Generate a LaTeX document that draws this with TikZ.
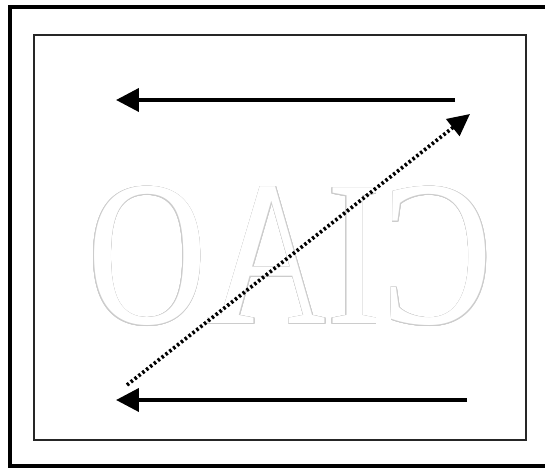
\documentclass[tikz,border=0pt]{standalone}
\usepackage{fontspec}
\setmainfont{Liberation Serif}
\usepackage{contour}
\usetikzlibrary{arrows.meta,positioning}
\contourlength{0.4pt}
\tikzset{
  frameLine/.style={draw=black, line width=2.4pt},
  panelBox/.style={draw=black!85, line width=1.2pt, inner sep=0pt},
  flowArrow/.style={-{Triangle[length=0.46cm,width=0.46cm]}, line width=2.3pt},
  crossArrow/.style={-{Triangle[length=0.44cm,width=0.42cm]}, line width=2.1pt, dash pattern=on 1.4pt off 1.4pt},
  ghostText/.style={font=\fontsize{118}{118}\selectfont, text=white, xscale=-0.8, inner sep=0pt}
}
\begin{document}
\begin{tikzpicture}[x=0.02cm, y=-0.02cm]
  \useasboundingbox (0,0) rectangle (545,469);
  % frame and panel
  \draw[frameLine] (545,7) -- (10,7) -- (10,466) -- (545,466);
  \node[panelBox, minimum width=9.84cm, minimum height=8.1cm] (panel) at (280,237.5) {};

  % faint mirrored lettering
  \node[ghostText, anchor=base] (ghost) at (290,324) {\contour{black!20}{CIAO}};

  % arrow ends
  \coordinate (topStart) at (455,100);
  \coordinate (topEnd) at (116,100);
  \coordinate (botStart) at (467,400);
  \coordinate (botEnd) at (116,400);
  \coordinate (crossStart) at (127,385);
  \coordinate (crossEnd) at (470,114);

  \draw[flowArrow] (topStart) -- (topEnd);
  \draw[flowArrow] (botStart) -- (botEnd);
  \draw[crossArrow] (crossStart) -- (crossEnd);
\end{tikzpicture}
\end{document}
